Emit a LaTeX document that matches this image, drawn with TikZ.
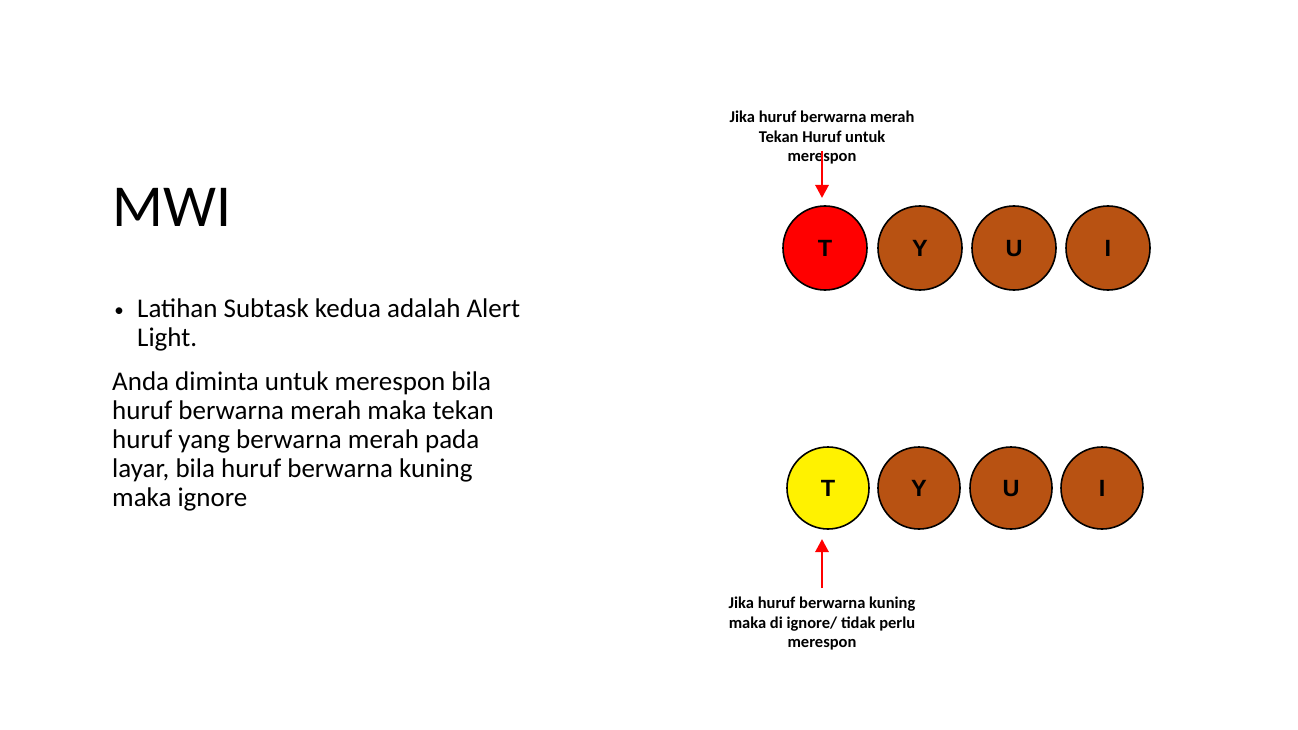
\documentclass[tikz,border=0pt]{standalone}
\usepackage{fontspec}
\setmainfont{Carlito}
\newfontfamily\arialfont{Liberation Sans}
\usetikzlibrary{arrows.meta}
\definecolor{brownkey}{RGB}{184,82,18}
\begin{document}
\begin{tikzpicture}[x=1pt,y=-1pt,
  key/.style={circle,draw=black,line width=1.6pt,minimum size=#1,inner sep=0pt,text height=16.8pt,text depth=0pt,font=\arialfont\bfseries\fontsize{23.5}{23.5}\selectfont},
  key/.default=84pt,
  line/.style={anchor=base west,inner sep=0pt,font=\fontsize{27}{29}\selectfont},
  note/.style={align=center,inner sep=0pt,font=\bfseries\fontsize{16.5}{19.5}\selectfont},
  pointer/.style={red,line width=2.8pt,-{Triangle[length=13pt,width=13pt]}}]
\useasboundingbox (0,0) rectangle (1298,730);
% title and text
\node[anchor=base west,inner sep=0pt,font=\fontsize{59.5}{60}\selectfont] (title) at (112,226) {MWI};
\node[anchor=base,inner sep=0pt,font=\fontsize{19}{29}\selectfont] (bullet) at (119,316) {•};
\node[line] (b1) at (137,317) {Latihan Subtask kedua adalah Alert};
\node[line] (b2) at (137,346) {Light.};
\node[line] (p1) at (112,390) {Anda diminta untuk merespon bila};
\node[line] (p2) at (112,419) {huruf berwarna merah maka tekan};
\node[line] (p3) at (112,448) {huruf yang berwarna merah pada};
\node[line] (p4) at (112,477) {layar, bila huruf berwarna kuning};
\node[line] (p5) at (112,506) {maka ignore};
% top row
\node[key,fill=red] (t1) at (825,248) {T};
\node[key,fill=brownkey] (y1) at (920,248) {Y};
\node[key,fill=brownkey] (u1) at (1014,248) {U};
\node[key,fill=brownkey] (i1) at (1108,248) {I};
% bottom row
\node[key=82pt,fill=yellow] (t2) at (828,488) {T};
\node[key=82pt,fill=brownkey] (y2) at (919,488) {Y};
\node[key=82pt,fill=brownkey] (u2) at (1011,488) {U};
\node[key=82pt,fill=brownkey] (i2) at (1102,488) {I};
% notes
\node[note] (n1) at (822,138) {Jika huruf berwarna merah\\Tekan Huruf untuk\\merespon};
\node[note] (n2) at (822,624) {Jika huruf berwarna kuning\\maka di ignore/ tidak perlu\\merespon};
\coordinate (a1s) at (822,151);
\coordinate (a1e) at (822,198);
\coordinate (a2s) at (822,588);
\coordinate (a2e) at (822,539);
\draw[pointer] (a1s) -- (a1e);
\draw[pointer] (a2s) -- (a2e);
\end{tikzpicture}
\end{document}
